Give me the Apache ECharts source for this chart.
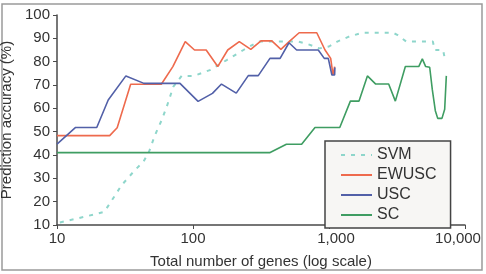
<!DOCTYPE html>
<html>
<head>
<meta charset="utf-8">
<script src="https://cdn.jsdelivr.net/npm/echarts@6/dist/echarts.min.js"></script>
<style>
  html, body { margin: 0; padding: 0; background: #fff; }
  #chart { width: 486px; height: 274px; }
</style>
</head>
<body>
<div id="chart"></div>
<script>
// values (x = number of genes, y = accuracy %)
const svmX = [10.5, 13.6, 19, 22.3, 24.5, 29.9, 37.5, 43.2, 47.5, 52.6, 58.9, 64.1, 71.7, 82.5, 100, 106, 133, 177, 235, 302, 338, 488, 595, 700, 850, 1000, 1150, 1400, 1750, 2950, 3200, 3700, 5800, 6000, 6900, 7100, 7300];
const svmY = [11.1, 12.6, 14.6, 15.7, 19.3, 27.1, 33.6, 37.1, 41.4, 48.6, 55, 60.7, 69.3, 73.9, 73.9, 74.3, 76.4, 80.7, 85, 88.6, 88.6, 88.6, 88.6, 87.5, 85.7, 86.5, 88.6, 90.7, 92.4, 92.4, 91.4, 88.6, 88.6, 85, 85, 81.4, 81.4];

const ewuscX = [10, 24.4, 27.7, 34.8, 58.5, 71.1, 87.7, 102.6, 125, 152, 180, 219, 266, 316, 380, 443, 509, 603, 813, 935, 1029, 1070, 1100];
const ewuscY = [48.3, 48.3, 51.7, 70.3, 70.3, 77.9, 88.6, 85, 85, 77.9, 85, 88.6, 85.3, 88.9, 88.9, 85.3, 88.6, 92.4, 92.4, 85, 81.4, 74.3, 77.9];

const uscX = [10, 13.7, 19.6, 23.8, 32.1, 43.6, 80.2, 109, 139, 162, 208, 255, 302, 368, 437, 508, 578, 834, 923, 988, 1050, 1100, 1105];
const uscY = [44.7, 51.8, 51.8, 63.6, 73.9, 70.7, 70.7, 63, 66.4, 70.4, 66.5, 74, 74, 81.4, 81.4, 88.1, 85, 85, 81.4, 81.4, 74.3, 74.3, 77.5];

const scX = [10, 366, 486, 629, 789, 1200, 1436, 1663, 1916, 2205, 2746, 3075, 3643, 4570, 4855, 5140, 5500, 5750, 6050, 6300, 6770, 7090, 7290];
const scY = [41, 41, 44.6, 44.6, 51.8, 51.8, 63.1, 63.1, 73.9, 70.4, 70.4, 63.1, 77.9, 77.9, 81.2, 77.9, 77.6, 68, 59, 55.7, 55.7, 59.6, 73.9];

const yTicks = [10, 20, 30, 40, 50, 60, 70, 80, 90, 100];
const xTickLabels = { 10: "10", 100: "100", 1000: "1,000", 10000: "10,000" };

const pairs = (xs, ys) => xs.map((x, i) => [x, ys[i]]);

const font = "Liberation Sans, Arial, sans-serif";
const axisColor = "#4a4a4a";

let myChart = echarts.init(document.getElementById("chart"));
myChart.setOption({
  animation: false,
  textStyle: { fontFamily: font },
  grid: { left: 57, right: 21, top: 15, bottom: 49, outerBoundsMode: "none" },
  graphic: [
    {
      type: "rect",
      shape: { x: 2, y: 4, width: 480, height: 266 },
      style: { fill: "none", stroke: "#9a9a9a", lineWidth: 1.5 },
      silent: true,
      z: -10,
    },
  ],
  legend: {
    orient: "vertical",
    left: 325,
    top: 141,
    width: 127,
    height: 83,
    padding: [5, 14, 4, 15],
    itemGap: 2,
    itemWidth: 31,
    itemHeight: 10,
    backgroundColor: "#f7f6f4",
    borderColor: "#444",
    borderWidth: 1.5,
    borderRadius: 0,
    itemStyle: { opacity: 0 },
    textStyle: { fontSize: 16, color: "#333", lineHeight: 18 },
    data: ["SVM", "EWUSC", "USC", "SC"],
  },
  xAxis: {
    type: "log",
    logBase: 10,
    min: 10,
    max: 10000,
    name: "Total number of genes (log scale)",
    nameLocation: "middle",
    nameGap: 29,
    nameTextStyle: { fontSize: 15, color: "#333" },
    axisLine: { lineStyle: { color: axisColor, width: 1.5 } },
    axisTick: { show: true, length: 4, lineStyle: { color: axisColor } },
    minorTick: { show: false },
    splitLine: { show: false },
    axisLabel: {
      fontSize: 15,
      color: "#333",
      margin: 6,
      showMaxLabel: true,
      hideOverlap: false,
      formatter: (v) => {
        const t = xTickLabels[Math.round(v)] || "";
        if (Math.round(v) === 1000) return "{r|" + t + "}";
        if (Math.round(v) === 10000) return "{l|" + t + "}";
        return t;
      },
      rich: {
        r: { fontSize: 15, color: "#333", padding: [0, 0, 0, 14] },
        l: { fontSize: 15, color: "#333", padding: [0, 14, 0, 0] },
      },
    },
  },
  yAxis: {
    type: "value",
    min: yTicks[0],
    max: yTicks[yTicks.length - 1],
    interval: 10,
    name: "Prediction accuracy (%)",
    nameLocation: "middle",
    nameRotate: 90,
    nameGap: 35,
    nameTextStyle: { fontSize: 15, color: "#333" },
    axisLine: { show: true, lineStyle: { color: axisColor, width: 1.5 } },
    axisTick: { show: true, length: 4, lineStyle: { color: axisColor } },
    splitLine: { show: false },
    axisLabel: { fontSize: 15, color: "#333", margin: 7 },
  },
  series: [
    {
      name: "SVM",
      type: "line",
      symbol: "none",
      data: pairs(svmX, svmY),
      color: "#8ed6cb",
      lineStyle: { width: 2, type: [4, 6], color: "#8ed6cb" },
    },
    {
      name: "EWUSC",
      type: "line",
      symbol: "none",
      data: pairs(ewuscX, ewuscY),
      color: "#ee6a4d",
      lineStyle: { width: 1.6, color: "#ee6a4d" },
    },
    {
      name: "USC",
      type: "line",
      symbol: "none",
      data: pairs(uscX, uscY),
      color: "#5260a8",
      lineStyle: { width: 1.6, color: "#5260a8" },
    },
    {
      name: "SC",
      type: "line",
      symbol: "none",
      data: pairs(scX, scY),
      color: "#3f9d62",
      lineStyle: { width: 1.6, color: "#3f9d62" },
    },
  ],
});
window.onresize = function () {
  myChart.resize();
};
</script>
</body>
</html>
